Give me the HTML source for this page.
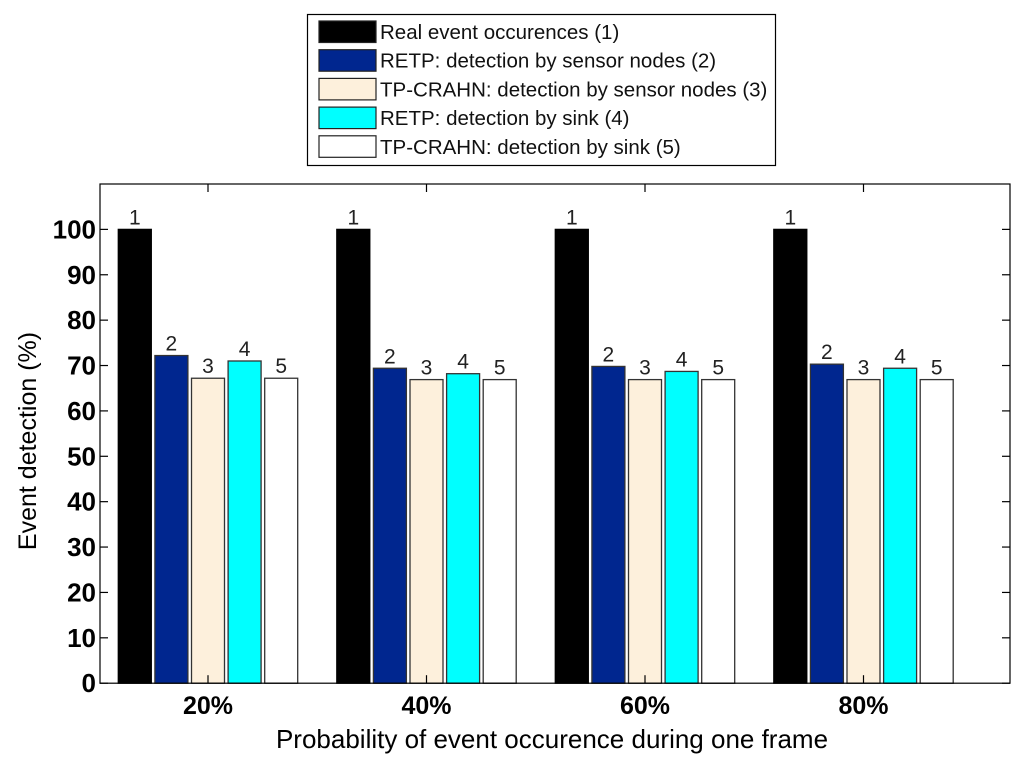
<!DOCTYPE html>
<html><head><meta charset="utf-8"><style>
body{margin:0;background:#fff;}
svg text{font-family:"Liberation Sans",Arial,sans-serif;}
</style></head><body>
<svg id="chart" width="1024" height="763" xmlns="http://www.w3.org/2000/svg">
<rect width="1024" height="763" fill="#fff"/>
<g id="bars"></g>
<g id="axes"></g>
<g id="legend"></g>
</svg>
<script>
const categories = ["20%","40%","60%","80%"];
const seriesNames = ["Real event occurences (1)","RETP: detection by sensor nodes (2)","TP-CRAHN: detection by sensor nodes (3)","RETP: detection by sink (4)","TP-CRAHN: detection by sink (5)"];
const real = [100,100,100,100];
const retpNodes = [72.2,69.4,69.8,70.3];
const tpNodes = [67.2,66.9,66.9,66.9];
const retpSink = [71.0,68.2,68.7,69.4];
const tpSink = [67.2,66.9,66.9,66.9];
const yTicks = [0,10,20,30,40,50,60,70,80,90,100];
const series = [real,retpNodes,tpNodes,retpSink,tpSink];
const colors = ["#000000","#00268f","#fdf0dc","#00ffff","#ffffff"];
const NS="http://www.w3.org/2000/svg";
const L=100,R=1010,T=184,B=683.2;
function yS(v){return B-(v/110)*(B-T);}
function xS(i){return 208+218.5*i;}
const step=36.6,bw=33;
function mk(tag,attrs,parent,text){const e=document.createElementNS(NS,tag);for(const k in attrs)e.setAttribute(k,attrs[k]);if(text!==undefined)e.textContent=text;parent.appendChild(e);return e;}
const gb=document.getElementById('bars');
series.forEach((s,si)=>{
  s.forEach((v,ci)=>{
    const cx=xS(ci)+(si-2)*step;
    const r=mk('rect',{x:cx-bw/2,y:yS(v),width:bw,height:B-yS(v),fill:colors[si],stroke:si===0?'#000':'#333','stroke-width':1.3},gb);
    
    
    const t=mk('text',{x:cx,y:yS(v)-5,'text-anchor':'middle','font-size':21,fill:'#222'},gb,String(si+1));
    
    
  });
});
const ga=document.getElementById('axes');
const frame=mk('rect',{x:L,y:T,width:R-L,height:B-T,fill:'none',stroke:'#000','stroke-width':1.2},ga);


yTicks.forEach(v=>{
  const y=yS(v);
  mk('line',{x1:L,x2:L+8,y1:y,y2:y,stroke:'#000','stroke-width':1.2},ga);
  mk('line',{x1:R,x2:R-8,y1:y,y2:y,stroke:'#000','stroke-width':1.2},ga);
  const t=mk('text',{x:L-4,y:y+9,'text-anchor':'end','font-size':26,'font-weight':'bold'},ga,String(v));
  
  
});
categories.forEach((c,i)=>{
  const x=xS(i);
  mk('line',{x1:x,x2:x,y1:B,y2:B-8,stroke:'#000','stroke-width':1.2},ga);
  mk('line',{x1:x,x2:x,y1:T,y2:T+8,stroke:'#000','stroke-width':1.2},ga);
  const t=mk('text',{x:x,y:B+31,'text-anchor':'middle','font-size':25,'font-weight':'bold'},ga,c);
  
  
});
const xt=mk('text',{x:552,y:748,'text-anchor':'middle','font-size':26},ga,'Probability of event occurence during one frame');


const yt=mk('text',{x:0,y:0,'text-anchor':'middle','font-size':25,transform:'translate(36,441) rotate(-90)'},ga,'Event detection (%)');


const gl=document.getElementById('legend');
const lb=mk('rect',{x:307.5,y:14.5,width:468,height:151,fill:'#fff',stroke:'#000','stroke-width':1.2},gl);


seriesNames.forEach((n,i)=>{
  const y=21+i*28.7;
  const sw=mk('rect',{x:319,y:y,width:57,height:21.5,fill:colors[i],stroke:'#222','stroke-width':1.2},gl);
  
  
  const t=mk('text',{x:380,y:y+18,'font-size':20.5,fill:'#111'},gl,n);
  
  
});
</script>
</body></html>
